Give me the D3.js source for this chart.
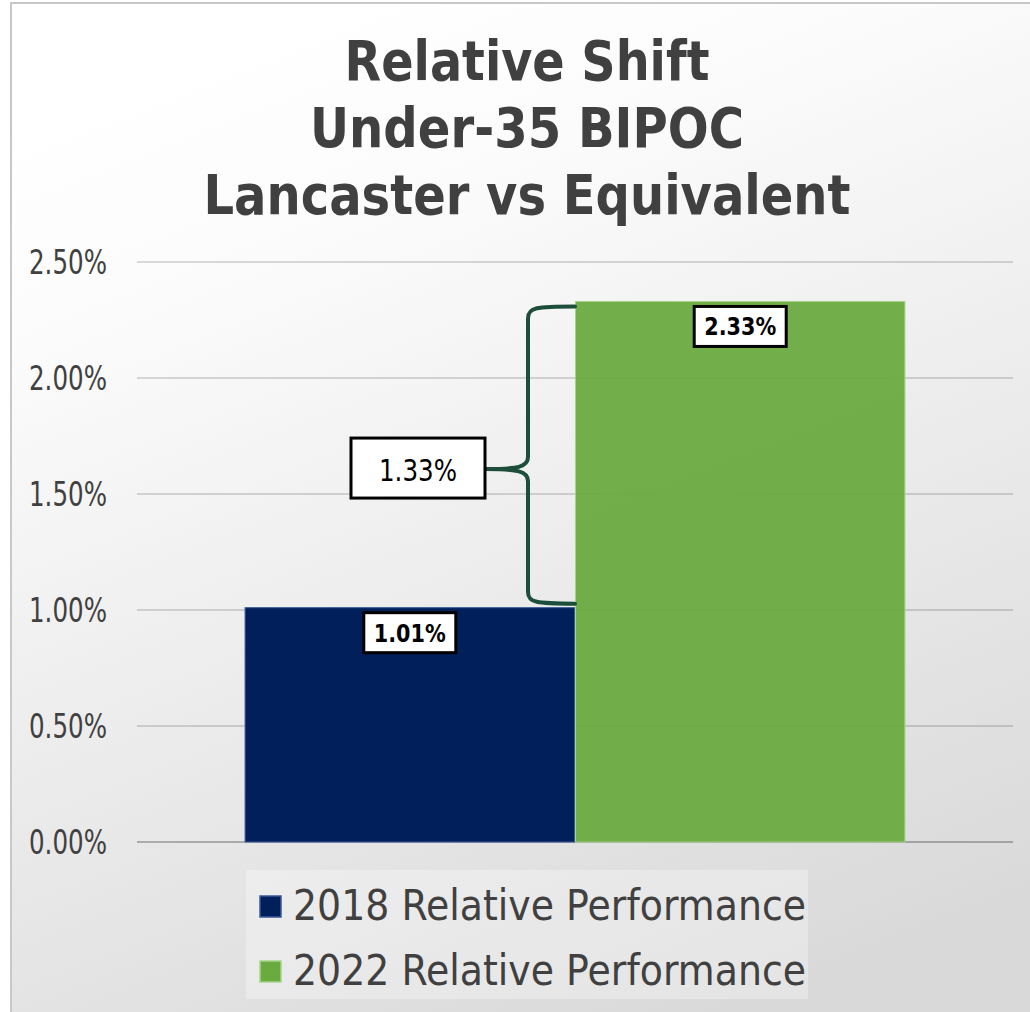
<!DOCTYPE html>
<meta charset="utf-8">
<style>
body {
  margin: 0;
  background: #fff;
}
svg {
  display: block;
  font-family: "DejaVu Sans", Verdana, sans-serif;
}
.tick-label {
  font-size: 34px;
  fill: #404040;
}
.title {
  font-size: 56px;
  font-weight: bold;
  fill: #404040;
}
.legend-label {
  font-size: 42px;
  fill: #404040;
}
</style>
<body>
<svg width="1030" height="1012"></svg>
<script src="https://d3js.org/d3.v7.min.js"></script>
<script>

// chart data
var titleLines = ["Relative Shift", "Under-35 BIPOC", "Lancaster vs Equivalent"];
var categories = ["Lancaster vs Equivalent"];
var seriesNames = ["2018 Relative Performance", "2022 Relative Performance"];
var seriesValues = [0.0101, 0.0233];
var seriesColors = ["#001f5b", "#6aab40"];
var seriesEdges = ["#3a5a96", "#a6d38a"];
var yTicks = [0, 0.005, 0.01, 0.015, 0.02, 0.025];
var shiftValue = [0.0133];   // annotated shift between the two bars

var svg = d3.select("svg"),
    width = +svg.attr("width"),
    height = +svg.attr("height");

var fmt = d3.format(".2%");

// squeeze text horizontally to the narrow face used in the original
function fit(sel, w) {
  sel.attr("textLength", w).attr("lengthAdjust", "spacingAndGlyphs");
}

// background panel
var defs = svg.append("defs");
var grad = defs.append("linearGradient")
    .attr("id", "bg")
    .attr("x1", 0.3).attr("y1", 0)
    .attr("x2", 0.7).attr("y2", 1);
grad.append("stop").attr("offset", 0).attr("stop-color", "#ffffff");
grad.append("stop").attr("offset", 0.2).attr("stop-color", "#fbfbfb");
grad.append("stop").attr("offset", 1).attr("stop-color", "#d9d9d9");

svg.append("rect")
    .attr("x", 11).attr("y", 3)
    .attr("width", width).attr("height", height)
    .attr("fill", "url(#bg)")
    .attr("stroke", "#c8c8c8")
    .attr("stroke-width", 2);

// title
var titleWidths = [365, 434, 647];
svg.append("g").selectAll("text")
  .data(titleLines)
  .enter().append("text")
    .attr("class", "title")
    .attr("x", 527)
    .attr("y", function(d, i) { return 80 + i * 67; })
    .attr("text-anchor", "middle")
    .text(function(d) { return d; })
    .each(function(d, i) { fit(d3.select(this), titleWidths[i]); });

// scales
var y = d3.scaleLinear()
    .domain([0, 0.025])
    .range([842, 262]);

var x0 = d3.scaleBand()
    .domain(categories)
    .range([137, 1013])
    .padding(0.14);

var x1 = d3.scaleBand()
    .domain(seriesNames)
    .range([0, x0.bandwidth()]);

// gridlines + tick labels
var grid = svg.append("g");
grid.selectAll("line")
  .data(yTicks)
  .enter().append("line")
    .attr("x1", 137).attr("x2", 1013)
    .attr("y1", function(d) { return y(d); })
    .attr("y2", function(d) { return y(d); })
    .attr("stroke", function(d) { return d === 0 ? "rgba(0,0,0,0.26)" : "rgba(0,0,0,0.14)"; })
    .attr("stroke-width", 2);

grid.selectAll("text")
  .data(yTicks)
  .enter().append("text")
    .attr("class", "tick-label")
    .attr("x", 107)
    .attr("y", function(d) { return y(d) + 12; })
    .attr("text-anchor", "end")
    .text(function(d) { return fmt(d); })
    .each(function() { fit(d3.select(this), 78); });

// bars
var bars = seriesNames.map(function(name, i) {
  return { name: name, value: seriesValues[i], color: seriesColors[i], edge: seriesEdges[i] };
});

var barG = svg.append("g")
    .attr("transform", "translate(" + x0(categories[0]) + ",0)");

barG.selectAll("rect")
  .data(bars)
  .enter().append("rect")
    .attr("x", function(d) { return x1(d.name) + 0.5; })
    .attr("width", x1.bandwidth() - 1)
    .attr("y", function(d) { return y(d.value); })
    .attr("height", function(d) { return y(0) - y(d.value); })
    .attr("fill", function(d) { return d.color; })
    .attr("fill-opacity", function(d, i) { return i === 1 ? 0.95 : 1; })
    .attr("stroke", function(d) { return d.edge; })
    .attr("stroke-width", 1);

// value labels in white boxes
var lab = barG.selectAll("g.vlabel")
  .data(bars)
  .enter().append("g")
    .attr("class", "vlabel")
    .attr("transform", function(d) {
      return "translate(" + (x1(d.name) + x1.bandwidth() / 2) + "," + (y(d.value) + 5) + ")";
    });

lab.append("rect")
    .attr("x", -46).attr("y", 0)
    .attr("width", 92).attr("height", 40)
    .attr("fill", "#fff")
    .attr("stroke", "#000")
    .attr("stroke-width", 3);

lab.append("text")
    .attr("y", 29)
    .attr("text-anchor", "middle")
    .attr("font-size", 24)
    .attr("font-weight", "bold")
    .attr("fill", "#000")
    .text(function(d) { return fmt(d.value); })
    .each(function() { fit(d3.select(this), 72); });

// curly brace between the two bar tops
var xb = x0(categories[0]) + x1(seriesNames[1]),
    yTop = y(seriesValues[1]) + 5,
    yBot = y(seriesValues[0]) - 4,
    ym = (yTop + yBot) / 2 + 14,
    xv = xb - 47,
    xp = xb - 90;

var brace = d3.path();
brace.moveTo(xb, yTop);
brace.bezierCurveTo(xv + 8, yTop, xv, yTop + 1, xv, yTop + 12);
brace.lineTo(xv, ym - 12);
brace.bezierCurveTo(xv, ym - 2, xv - 10, ym, xp, ym);
brace.moveTo(xp, ym);
brace.bezierCurveTo(xv - 10, ym, xv, ym + 2, xv, ym + 12);
brace.lineTo(xv, yBot - 12);
brace.bezierCurveTo(xv, yBot - 1, xv + 8, yBot, xb, yBot);

svg.append("path")
    .attr("d", brace.toString())
    .attr("fill", "none")
    .attr("stroke", "#1c4e3b")
    .attr("stroke-width", 4)
    .attr("stroke-linecap", "round");

// shift label
var shiftG = svg.append("g")
    .attr("transform", "translate(" + (xp - 67) + "," + (ym - 31) + ")");

shiftG.append("rect")
    .attr("x", -67).attr("y", 0)
    .attr("width", 134).attr("height", 60)
    .attr("fill", "#fff")
    .attr("stroke", "#000")
    .attr("stroke-width", 3);

shiftG.append("text")
    .attr("y", 43)
    .attr("text-anchor", "middle")
    .attr("font-size", 31)
    .attr("fill", "#000")
    .text(fmt(shiftValue[0]))
    .each(function() { fit(d3.select(this), 78); });

// legend
var legend = svg.append("g");

legend.append("rect")
    .attr("x", 246).attr("y", 870)
    .attr("width", 562).attr("height", 129)
    .attr("fill", "#fff")
    .attr("fill-opacity", 0.3);

var item = legend.selectAll("g.item")
  .data(bars)
  .enter().append("g")
    .attr("class", "item")
    .attr("transform", function(d, i) { return "translate(0," + (i * 65) + ")"; });

item.append("rect")
    .attr("x", 260).attr("y", 896)
    .attr("width", 21).attr("height", 21)
    .attr("fill", function(d) { return d.color; })
    .attr("stroke", function(d) { return d.edge; })
    .attr("stroke-width", 1.5);

item.append("text")
    .attr("class", "legend-label")
    .attr("x", 293)
    .attr("y", 920)
    .text(function(d) { return d.name; })
    .each(function() { fit(d3.select(this), 513); });

</script>
</body>
